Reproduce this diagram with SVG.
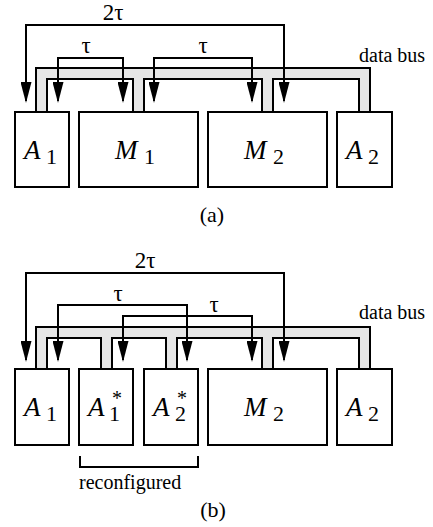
<svg xmlns="http://www.w3.org/2000/svg" width="433" height="527" viewBox="0 0 433 527">
  <style>
    .box { fill: #ffffff; stroke: #000000; stroke-width: 2; }
    .bus { fill: #e6e6e6; stroke: #000000; stroke-width: 2; stroke-linejoin: miter; }
    .wire { fill: none; stroke: #000000; stroke-width: 2; marker-start: url(#arrow); marker-end: url(#arrow); }
    .bracket { fill: none; stroke: #000000; stroke-width: 2; }
    text { font-family: "Liberation Serif", "Times New Roman", "DejaVu Serif", serif; fill: #000000; }
    .lbl { font-size: 27px; font-style: italic; }
    .sub { font-size: 22px; font-style: normal; }
    .star { font-size: 20px; font-style: normal; }
    .tau { font-size: 23px; }
    .note { font-size: 20px; }
    .cap { font-size: 22px; }
  </style>
  <defs>
    <marker id="arrow" viewBox="0 0 21 11" refX="19" refY="5.5" markerWidth="21" markerHeight="11" markerUnits="userSpaceOnUse" orient="auto-start-reverse">
      <path d="M0,0 L21,5.5 L0,11 Z" fill="#000000"/>
    </marker>
  </defs>

  <!-- (a) single-multiplier layout -->
  <g id="bus-a">
    <path class="bus" d="M36,112 V68 H370 V112 H359 V79 H273 V112 H262 V79 H144 V112 H133 V79 H47 V112 Z"/>
    <text class="note" x="359" y="62">data bus</text>
  </g>
  <g id="a-A1">
    <rect class="box" x="15" y="112" width="54" height="75"/>
    <text class="lbl" x="24" y="159">A</text>
    <text class="sub" x="46" y="164">1</text>
  </g>
  <g id="a-M1">
    <rect class="box" x="79" y="112" width="119" height="75"/>
    <text class="lbl" x="115" y="159">M</text>
    <text class="sub" x="144" y="164">1</text>
  </g>
  <g id="a-M2">
    <rect class="box" x="208" y="112" width="119" height="75"/>
    <text class="lbl" x="244" y="159">M</text>
    <text class="sub" x="273" y="164">2</text>
  </g>
  <g id="a-A2">
    <rect class="box" x="337" y="112" width="55" height="75"/>
    <text class="lbl" x="346" y="159">A</text>
    <text class="sub" x="368" y="164">2</text>
  </g>
  <g id="connectors-a">
    <path class="wire" d="M26,101 V25 H284 V101"/>
    <path class="wire" d="M58,101 V58 H123 V101"/>
    <path class="wire" d="M154,101 V58 H252 V101"/>
    <text class="tau" x="113" y="20" text-anchor="middle">2τ</text>
    <text class="tau" x="86" y="53" text-anchor="middle">τ</text>
    <text class="tau" x="203" y="53" text-anchor="middle">τ</text>
  </g>
  <text class="cap" x="212" y="222" text-anchor="middle">(a)</text>

  <!-- (b) multiplier replaced by two reconfigured adders -->
  <g id="bus-b">
    <path class="bus" d="M36,369 V327 H370 V369 H359 V338 H273 V369 H262 V338 H177 V369 H166 V338 H112 V369 H101 V338 H47 V369 Z"/>
    <text class="note" x="359" y="319">data bus</text>
  </g>
  <g id="b-A1">
    <rect class="box" x="15" y="369" width="54" height="76"/>
    <text class="lbl" x="24" y="416">A</text>
    <text class="sub" x="46" y="421">1</text>
  </g>
  <g id="b-A1s">
    <rect class="box" x="79" y="369" width="54" height="76"/>
    <text class="lbl" x="88" y="416">A</text>
    <text class="sub" x="109" y="421">1</text>
    <text class="star" x="112" y="405">*</text>
  </g>
  <g id="b-A2s">
    <rect class="box" x="144" y="369" width="54" height="76"/>
    <text class="lbl" x="153" y="416">A</text>
    <text class="sub" x="175" y="421">2</text>
    <text class="star" x="177" y="405">*</text>
  </g>
  <g id="b-M2">
    <rect class="box" x="208" y="369" width="119" height="76"/>
    <text class="lbl" x="244" y="416">M</text>
    <text class="sub" x="273" y="421">2</text>
  </g>
  <g id="b-A2">
    <rect class="box" x="337" y="369" width="55" height="76"/>
    <text class="lbl" x="346" y="416">A</text>
    <text class="sub" x="368" y="421">2</text>
  </g>
  <g id="connectors-b">
    <path class="wire" d="M26,360 V273 H284 V360"/>
    <path class="wire" d="M58,360 V305 H187 V360"/>
    <path class="wire" d="M123,360 V316 H252 V360"/>
    <text class="tau" x="145" y="268" text-anchor="middle">2τ</text>
    <text class="tau" x="118" y="301" text-anchor="middle">τ</text>
    <text class="tau" x="214" y="312" text-anchor="middle">τ</text>
  </g>
  <g id="reconfigured">
    <path class="bracket" d="M80,456 V467 H198 V456"/>
    <text class="note" x="79" y="489">reconfigured</text>
  </g>
  <text class="cap" x="213" y="517" text-anchor="middle">(b)</text>
</svg>
